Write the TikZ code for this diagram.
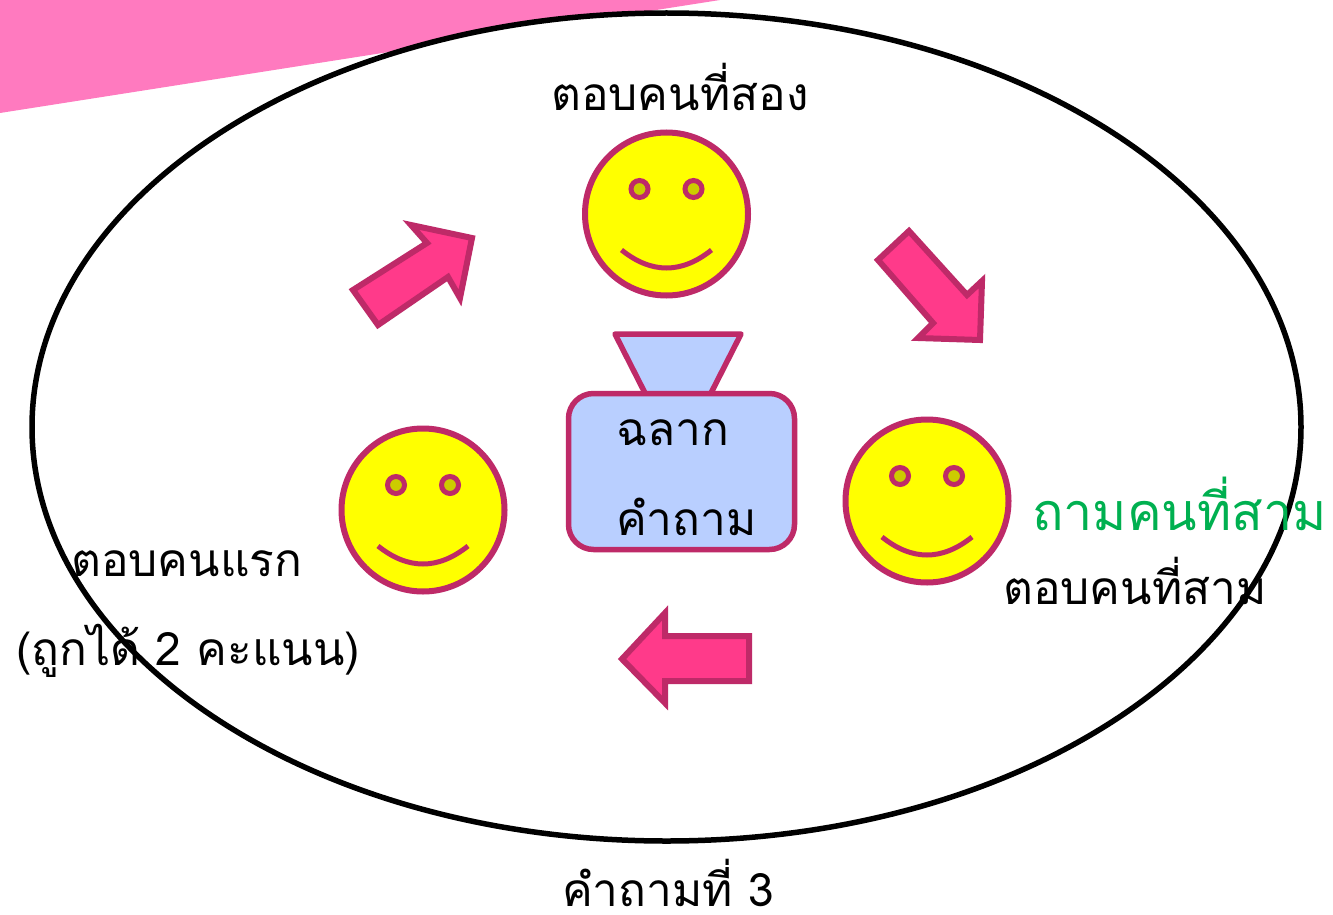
\documentclass[tikz,border=0pt]{standalone}
\usepackage{fontspec}
\newfontfamily\thaifont[Script=Thai]{Loma}
\usetikzlibrary{calc}
\usetikzlibrary{shapes.geometric}
\definecolor{edgepink}{HTML}{BE2A68}
\definecolor{arrowpink}{HTML}{FF3A8A}
\definecolor{bannerpink}{HTML}{FF7ABF}
\definecolor{boxblue}{HTML}{B9CFFF}
\definecolor{eyeolive}{HTML}{CCCC00}
\definecolor{askgreen}{HTML}{00B050}
\definecolor{faceyellow}{HTML}{FFFF00}
\begin{document}
\begin{tikzpicture}[x=1pt,y=-1pt,
  face/.style={circle, draw=edgepink, fill=faceyellow, line width=6pt, minimum size=163pt, inner sep=0pt},
  eye/.style={draw=edgepink, fill=eyeolive, line width=5pt},
  smile/.style={draw=edgepink, line width=5pt},
  blockarrow/.style={draw=edgepink, fill=arrowpink, line width=6pt, line join=miter},
  label/.style={inner sep=0pt, anchor=base west, font=\thaifont\fontsize{46}{46}\selectfont}]
\useasboundingbox (0,0) rectangle (1333,915);
\fill[bannerpink] (0,0) -- (0,113) -- (720,0) -- cycle;
\node[ellipse, draw, fill=white, line width=5.5pt, minimum width=1269pt, minimum height=828pt, inner sep=0pt] (ring) at (666.5,427) {};
\node[face] (second) at (666.5,214) {};
\node[face] (first) at (423,510) {};
\node[face] (third) at (927,501) {};
\foreach \f in {first,second,third} {
  \draw[eye] ($(\f)+(-27,-25)$) circle (8.5);
  \draw[eye] ($(\f)+(27,-25)$) circle (8.5);
  \draw[smile] ($(\f)+(-45,36)$) .. controls ($(\f)+(-15,60)$) and ($(\f)+(15,60)$) .. ($(\f)+(45,36)$);
}
\draw[blockarrow] (353,290) -- (427,243) -- (411,225) -- (472,238) -- (460,298) -- (448,277) -- (378,325) -- cycle;
\draw[blockarrow] (909,231) -- (967,295) -- (982,281) -- (980,340) -- (918,338) -- (933,323) -- (878,260) -- cycle;
\draw[blockarrow] (749,636) -- (665,636) -- (665,613) -- (622,659) -- (665,703) -- (665,681) -- (749,681) -- cycle;
\draw[line width=5.5pt, draw=edgepink, fill=boxblue, line join=round] (615,334) -- (741,334) -- (710,395) -- (646,395) -- cycle;
\node[draw=edgepink, fill=boxblue, line width=5.5pt, rounded corners=25pt, minimum width=226pt, minimum height=156pt, inner sep=0pt] (bag) at (681.5,471.5) {};
\node[label] (drawing) at (616,445.5) {ฉลาก};
\node[label] (question) at (616,535.5) {คำถาม};
\node[label] (answersecond) at (551,110.5) {ตอบคนที่สอง};
\node[label] (answerfirst) at (71,576.5) {ตอบคนแรก};
\node[label] (points) at (16,665.5) {(ถูกได้ 2 คะแนน)};
\node[label, text=askgreen, font=\thaifont\fontsize{52}{52}\selectfont] (askthird) at (1032,530) {ถามคนที่สาม};
\node[label] (answerthird) at (1003,604.5) {ตอบคนที่สาม};
\node[label] (caption) at (562,906) {คำถามที่ 3};
\end{tikzpicture}
\end{document}
